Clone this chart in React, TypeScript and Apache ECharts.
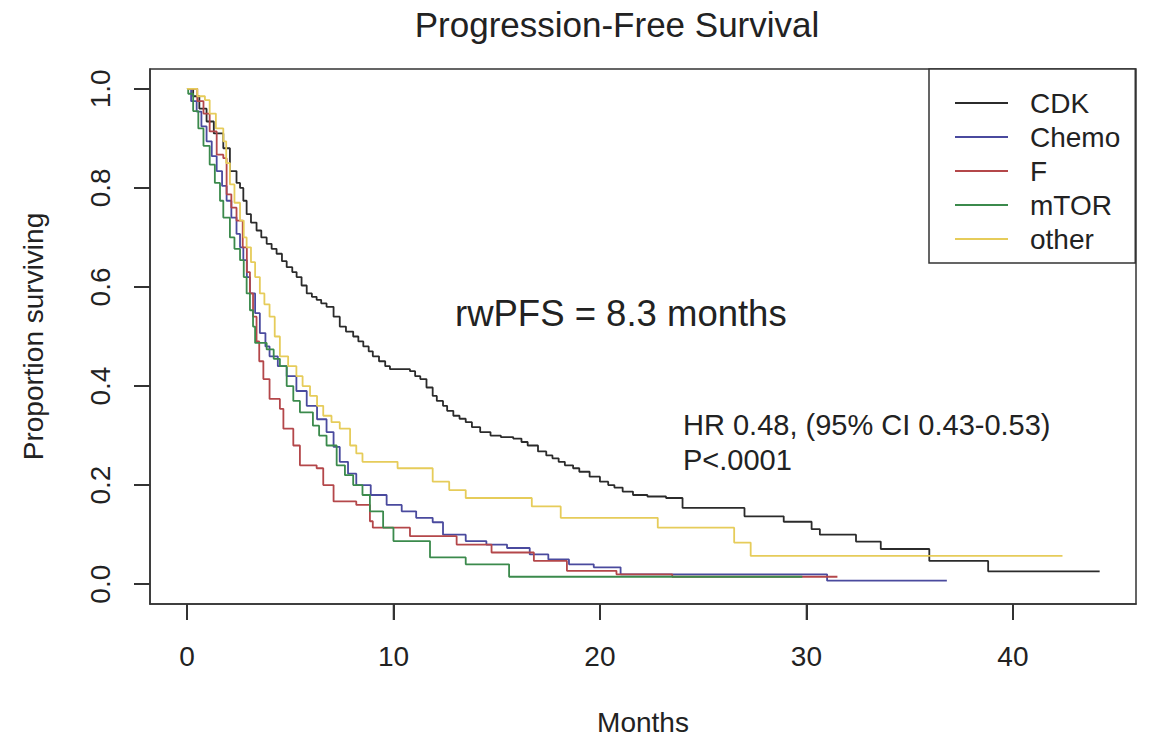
import React, { useEffect, useRef } from "react";
import * as echarts from "echarts";

const FONT = "'Liberation Sans', Arial, Helvetica, sans-serif";

const seriesNames = ["CDK", "Chemo", "F", "mTOR", "other"];
const seriesColors = ["#2b2b2b", "#4a4a9e", "#b4474a", "#3b8a4c", "#e6cc5a"];

const xTicks = [0, 10, 20, 30, 40];
const yTicks = [0, 0.2, 0.4, 0.6, 0.8, 1.0];
const xMin = -1.79;
const xMax = 45.96;
const yMin = -0.04;
const yMax = 1.04;

// [months, proportion surviving after that time]
const cdk: number[][] = [
  [0, 1], [0.3, 0.985], [0.6, 0.96], [0.95, 0.934], [1.3, 0.91], [1.76, 0.88], [2.08, 0.834],
  [2.4, 0.81], [2.57, 0.8], [2.73, 0.774], [2.89, 0.747], [3.1, 0.73], [3.37, 0.714], [3.6, 0.7],
  [3.86, 0.687], [4.1, 0.677], [4.34, 0.667], [4.6, 0.652], [4.83, 0.64], [5.1, 0.63], [5.31, 0.62],
  [5.55, 0.603], [5.8, 0.587], [6.05, 0.58], [6.28, 0.574], [6.5, 0.567], [6.76, 0.56], [7.1, 0.54],
  [7.4, 0.52], [7.7, 0.51], [8.05, 0.5], [8.3, 0.49], [8.54, 0.48], [8.8, 0.47], [9.0, 0.46],
  [9.3, 0.45], [9.6, 0.44], [9.83, 0.434], [10.8, 0.43], [11.05, 0.42], [11.3, 0.414], [11.6, 0.397],
  [11.9, 0.38], [12.1, 0.37], [12.4, 0.36], [12.6, 0.35], [12.9, 0.34], [13.2, 0.334], [13.5, 0.327],
  [13.8, 0.317], [14.2, 0.307], [14.7, 0.3], [15.2, 0.297], [15.8, 0.294], [16.2, 0.287], [16.5, 0.28],
  [17.0, 0.268], [17.4, 0.26], [17.7, 0.254], [18.0, 0.247], [18.3, 0.24], [18.7, 0.234], [19.0, 0.227],
  [19.5, 0.217], [20.0, 0.207], [20.4, 0.2], [20.7, 0.195], [21.1, 0.187], [21.6, 0.18], [22.3, 0.177],
  [23.2, 0.174], [24.0, 0.154], [27.0, 0.137], [28.9, 0.126], [30.25, 0.111], [30.65, 0.1],
  [32.4, 0.086], [33.6, 0.071], [35.95, 0.047], [38.8, 0.026], [44.2, 0.026],
];

const chemo: number[][] = [
  [0, 1], [0.2, 0.975], [0.47, 0.954], [0.7, 0.924], [0.95, 0.894], [1.2, 0.864], [1.44, 0.834],
  [1.7, 0.804], [1.92, 0.774], [2.15, 0.74], [2.4, 0.707], [2.57, 0.68], [2.73, 0.654], [2.9, 0.62],
  [3.05, 0.587], [3.3, 0.547], [3.53, 0.507], [3.8, 0.48], [4.0, 0.46], [4.4, 0.44], [4.83, 0.42],
  [5.3, 0.39], [5.8, 0.36], [6.3, 0.333], [6.76, 0.307], [7.1, 0.277], [7.4, 0.247], [7.8, 0.223],
  [8.2, 0.2], [8.9, 0.18], [9.67, 0.16], [10.4, 0.147], [11.1, 0.134], [11.9, 0.125], [12.4, 0.1],
  [13.5, 0.087], [14.5, 0.08], [15.5, 0.073], [16.6, 0.06], [17.5, 0.05], [18.5, 0.04], [19.7, 0.034],
  [21.0, 0.02], [31.0, 0.007], [36.8, 0.007],
];

const fulv: number[][] = [
  [0, 1], [0.3, 1.0], [0.5, 0.975], [0.8, 0.95], [1.1, 0.914], [1.44, 0.867], [1.76, 0.86],
  [1.92, 0.787], [2.15, 0.76], [2.4, 0.734], [2.7, 0.68], [2.9, 0.63], [3.05, 0.587], [3.2, 0.54],
  [3.37, 0.49], [3.5, 0.45], [3.7, 0.414], [4.0, 0.374], [4.5, 0.354], [4.67, 0.314], [5.15, 0.28],
  [5.47, 0.24], [6.28, 0.234], [6.6, 0.2], [7.1, 0.167], [8.2, 0.16], [8.86, 0.127], [9.0, 0.114],
  [10.8, 0.097], [13.06, 0.08], [14.75, 0.064], [16.8, 0.047], [18.4, 0.027], [20.8, 0.02],
  [23.5, 0.015], [31.5, 0.015],
];

const mtor: number[][] = [
  [0, 1], [0.06, 0.99], [0.3, 0.955], [0.55, 0.92], [0.8, 0.885], [1.1, 0.847], [1.35, 0.81],
  [1.6, 0.774], [1.76, 0.74], [2.08, 0.7], [2.3, 0.677], [2.57, 0.654], [2.75, 0.62], [2.89, 0.587],
  [3.05, 0.553], [3.2, 0.52], [3.3, 0.487], [3.86, 0.474], [4.2, 0.455], [4.5, 0.44], [4.83, 0.4],
  [5.15, 0.37], [5.47, 0.347], [6.1, 0.32], [6.4, 0.3], [6.76, 0.28], [7.25, 0.24], [7.65, 0.22],
  [8.05, 0.2], [8.5, 0.18], [8.86, 0.147], [9.5, 0.114], [10.0, 0.087], [11.77, 0.054],
  [13.5, 0.04], [15.6, 0.015], [29.8, 0.015],
];

const other: number[][] = [
  [0, 1], [0.3, 1.0], [0.5, 0.985], [0.87, 0.977], [1.1, 0.95], [1.4, 0.92], [1.76, 0.894],
  [1.9, 0.85], [2.08, 0.807], [2.3, 0.77], [2.57, 0.734], [2.75, 0.7], [2.89, 0.68], [3.1, 0.65],
  [3.3, 0.62], [3.53, 0.587], [3.75, 0.565], [4.0, 0.54], [4.25, 0.5], [4.5, 0.46], [4.9, 0.44],
  [5.3, 0.42], [5.6, 0.4], [5.96, 0.38], [6.3, 0.36], [6.6, 0.34], [7.0, 0.327], [7.4, 0.314],
  [7.9, 0.28], [8.2, 0.264], [8.5, 0.247], [10.2, 0.234], [11.9, 0.207], [12.7, 0.19], [13.5, 0.174],
  [16.7, 0.157], [18.1, 0.134], [22.8, 0.114], [26.5, 0.084], [27.3, 0.057], [42.4, 0.057],
];

const seriesData = [cdk, chemo, fulv, mtor, other];

const titleText = "Progression-Free Survival";
const annotation1 = "rwPFS = 8.3 months";
const annotation2 = "HR 0.48, (95% CI 0.43-0.53)";
const annotation3 = "P<.0001";

export default function App() {
  const ref = useRef<HTMLDivElement>(null);

  useEffect(() => {
    if (!ref.current) return;
    const chart = echarts.init(ref.current, null, { renderer: "svg" });
    const textColor = "#222";
    const axisColor = "#333";
    const textGraphics = [
      {
        type: "text",
        x: 617,
        y: 24,
        style: { text: titleText, font: `35px ${FONT}`, fill: textColor, align: "center", verticalAlign: "middle" },
      },
      {
        type: "text",
        x: 455,
        y: 313,
        style: { text: annotation1, font: `36.5px ${FONT}`, fill: textColor, align: "left", verticalAlign: "middle" },
      },
      {
        type: "text",
        x: 683,
        y: 425,
        style: { text: annotation2, font: `29px ${FONT}`, fill: textColor, align: "left", verticalAlign: "middle" },
      },
      {
        type: "text",
        x: 683,
        y: 460,
        style: { text: annotation3, font: `29px ${FONT}`, fill: textColor, align: "left", verticalAlign: "middle" },
      },
    ];
    chart.setOption({
      animation: false,
      backgroundColor: "#fff",
      grid: {
        left: 150,
        top: 69,
        width: 986,
        height: 538,
        show: true,
        borderColor: axisColor,
        borderWidth: 1.5,
      },
      xAxis: {
        type: "value",
        min: xMin,
        max: xMax,
        position: "bottom",
        name: "Months",
        nameLocation: "middle",
        nameGap: 104,
        nameTextStyle: { fontSize: 28, color: textColor, fontFamily: FONT },
        axisLine: { show: true, onZero: false, lineStyle: { color: axisColor, width: 1.5 } },
        splitLine: { show: false },
        axisTick: {
          show: true,
          length: 16,
          customValues: xTicks,
          lineStyle: { color: axisColor, width: 2 },
        },
        axisLabel: {
          show: true,
          customValues: xTicks,
          margin: 38,
          fontSize: 28,
          color: textColor,
          fontFamily: FONT,
          formatter: (v: number) => String(v),
        },
      },
      yAxis: {
        type: "value",
        min: yMin,
        max: yMax,
        position: "left",
        name: "Proportion surviving",
        nameLocation: "middle",
        nameRotate: 90,
        nameGap: 103,
        nameTextStyle: { fontSize: 28, color: textColor, fontFamily: FONT },
        axisLine: { show: true, onZero: false, lineStyle: { color: axisColor, width: 1.5 } },
        splitLine: { show: false },
        axisTick: {
          show: true,
          length: 16,
          customValues: yTicks,
          lineStyle: { color: axisColor, width: 2 },
        },
        axisLabel: {
          show: true,
          customValues: yTicks,
          rotate: 90,
          margin: 36,
          fontSize: 28,
          color: textColor,
          fontFamily: FONT,
          formatter: (v: number) => v.toFixed(1),
        },
      },
      legend: {
        data: seriesNames,
        orient: "vertical",
        left: 929,
        top: 69,
        padding: [20, 15, 10, 26],
        itemGap: 6,
        itemWidth: 53,
        itemHeight: 2,
        icon: "rect",
        borderColor: axisColor,
        borderWidth: 1.5,
        backgroundColor: "#fff",
        textStyle: {
          fontSize: 28,
          color: textColor,
          fontFamily: FONT,
          padding: [0, 0, 0, 17],
        },
      },
      graphic: textGraphics,
      series: seriesNames.map((name, i) => ({
        name,
        type: "line",
        step: "end",
        symbol: "none",
        showSymbol: false,
        data: seriesData[i],
        color: seriesColors[i],
        lineStyle: { color: seriesColors[i], width: 1.8 },
      })),
    });

    // Tick marks placed through the chart's own scales
    try {
      const tickLen = 16;
      const corner = chart.convertToPixel({ gridIndex: 0 }, [xMin, yMin]) as number[];
      const tickGraphics: any[] = [];
      if (corner && isFinite(corner[0]) && isFinite(corner[1])) {
        xTicks.forEach((v) => {
          const p = chart.convertToPixel({ gridIndex: 0 }, [v, yMin]) as number[];
          tickGraphics.push({
            type: "line",
            shape: { x1: p[0], y1: corner[1], x2: p[0], y2: corner[1] + tickLen },
            style: { stroke: axisColor, lineWidth: 1.5 },
            silent: true,
          });
        });
        yTicks.forEach((v) => {
          const p = chart.convertToPixel({ gridIndex: 0 }, [xMin, v]) as number[];
          tickGraphics.push({
            type: "line",
            shape: { x1: corner[0], y1: p[1], x2: corner[0] - tickLen, y2: p[1] },
            style: { stroke: axisColor, lineWidth: 1.5 },
            silent: true,
          });
        });
        chart.setOption({ graphic: [...textGraphics, ...tickGraphics] });
      }
    } catch (e) {
      // keep chart without extra ticks
    }
    return () => chart.dispose();
  }, []);

  return (
    <div
      ref={ref}
      style={{ position: "absolute", left: 0, top: 0, width: 1150, height: 741 }}
    />
  );
}
